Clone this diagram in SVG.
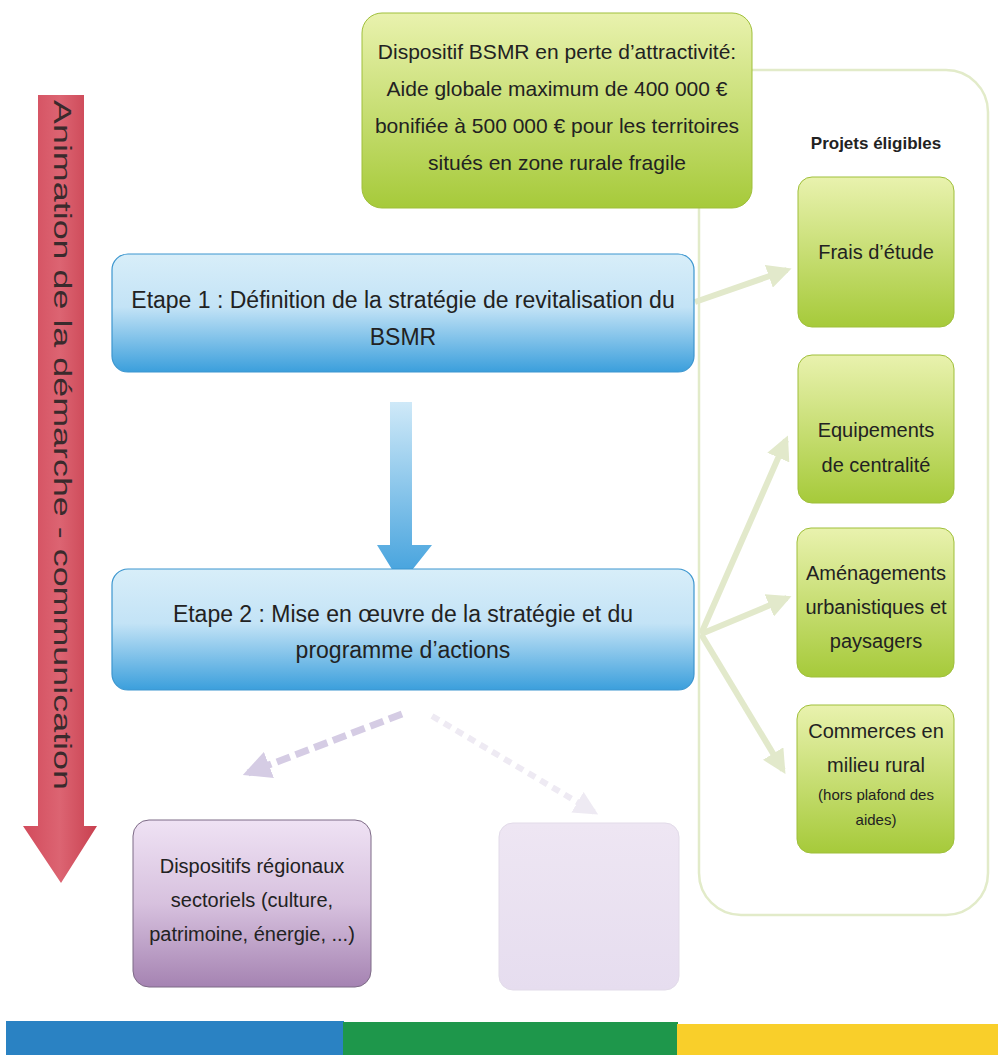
<svg xmlns="http://www.w3.org/2000/svg" width="998" height="1055" viewBox="0 0 998 1055">
<style>
.t{font-family:"Liberation Sans",Arial,sans-serif;fill:#222;text-anchor:middle}
.big{font-size:21px}
.mid{font-size:20px}
.sm{font-size:15px}
.conn{stroke:#e2e9cb;stroke-width:6;fill:none}
</style>
<defs>
<linearGradient id="gGreen" x1="0" y1="0" x2="0" y2="1">
<stop offset="0" stop-color="#e9f2ae"/><stop offset="1" stop-color="#a6ca3a"/>
</linearGradient>
<linearGradient id="gBlue" x1="0" y1="0" x2="0" y2="1">
<stop offset="0" stop-color="#d8eef9"/><stop offset="0.45" stop-color="#c3e3f6"/><stop offset="1" stop-color="#3b9fdc"/>
</linearGradient>
<linearGradient id="gBlueArrow" x1="0" y1="0" x2="0" y2="1">
<stop offset="0" stop-color="#cfe9f8"/><stop offset="1" stop-color="#3e9fdc"/>
</linearGradient>
<linearGradient id="gPurple" x1="0" y1="0" x2="0" y2="1">
<stop offset="0" stop-color="#efe2f4"/><stop offset="0.5" stop-color="#d7c1de"/><stop offset="1" stop-color="#a583b2"/>
</linearGradient>
<linearGradient id="gPale" x1="0" y1="0" x2="0" y2="1">
<stop offset="0" stop-color="#eee6f3"/><stop offset="1" stop-color="#e6ddef"/>
</linearGradient>
<linearGradient id="gRed" x1="0" y1="0" x2="1" y2="0">
<stop offset="0" stop-color="#d24b5c"/><stop offset="0.5" stop-color="#dc6472"/><stop offset="1" stop-color="#c8404f"/>
</linearGradient>
<marker id="ahG" viewBox="0 0 10 10" refX="8" refY="5" markerWidth="4" markerHeight="4" orient="auto" markerUnits="strokeWidth">
<path d="M0,0 L10,5 L0,10 z" fill="#e2e9cb"/>
</marker>
<marker id="ahP" viewBox="0 0 10 10" refX="8" refY="5" markerWidth="4" markerHeight="4" orient="auto" markerUnits="strokeWidth">
<path d="M0,0 L10,5 L0,10 z" fill="#d5cce4"/>
</marker>
<marker id="ahP2" viewBox="0 0 10 10" refX="8" refY="5" markerWidth="4" markerHeight="4" orient="auto" markerUnits="strokeWidth">
<path d="M0,0 L10,5 L0,10 z" fill="#eeeaf3"/>
</marker>
</defs>
<rect width="998" height="1055" fill="#ffffff"/>

<!-- bottom bar -->
<g id="bar">
<rect x="6" y="1021" width="338" height="34" fill="#2a82c3"/>
<rect x="343" y="1022" width="335" height="33" fill="#1e974b"/>
<rect x="677" y="1024" width="321" height="31" fill="#f9cf2a"/>
</g>

<!-- container -->
<g id="container">
<rect x="699" y="70" width="289" height="845" rx="42" fill="none" stroke="#e2ebc9" stroke-width="2.5"/>
<text class="t" x="876" y="149" style="font-size:17px;font-weight:bold">Projets éligibles</text>
</g>

<!-- red arrow -->
<g id="animation">
<path d="M38,95 L84,95 L84,826 L97,826 L61,883 L23,826 L38,826 Z" fill="url(#gRed)"/>
<text class="t" transform="translate(54,445) rotate(90)" style="font-size:23px;fill:#3a2a2c" textLength="690" lengthAdjust="spacingAndGlyphs">Animation de la démarche - communication</text>
</g>

<!-- connectors -->
<g id="connectors">
<line class="conn" x1="695" y1="302" x2="787" y2="270" marker-end="url(#ahG)"/>
<line class="conn" x1="701" y1="634" x2="786" y2="440" marker-end="url(#ahG)"/>
<line class="conn" x1="701" y1="634" x2="787" y2="598" marker-end="url(#ahG)"/>
<line class="conn" x1="701" y1="634" x2="783" y2="770" marker-end="url(#ahG)"/>
<line x1="402" y1="714" x2="248" y2="773" stroke="#d5cce4" stroke-width="7" stroke-dasharray="14,6" marker-end="url(#ahP)"/>
<line x1="432" y1="716" x2="594" y2="812" stroke="#eeeaf3" stroke-width="6" stroke-dasharray="8,6" marker-end="url(#ahP2)"/>
<path d="M390,402 L412,402 L412,545 L432,545 L401,584 L377,545 L390,545 Z" fill="url(#gBlueArrow)"/>
</g>

<!-- top box -->
<g id="bsmr">
<rect x="362" y="13" width="390" height="195" rx="20" fill="url(#gGreen)" stroke="#9fbf3a" stroke-width="1"/>
<text class="t big" x="557" y="59">Dispositif BSMR en perte d’attractivité:</text>
<text class="t big" x="557" y="96">Aide globale maximum de 400 000 €</text>
<text class="t big" x="557" y="133">bonifiée à 500 000 € pour les territoires</text>
<text class="t big" x="557" y="170">situés en zone rurale fragile</text>
</g>

<!-- etape 1 -->
<g id="etape1">
<rect x="112" y="254" width="582" height="118" rx="16" fill="url(#gBlue)" stroke="#3c96cf" stroke-width="1.2"/>
<text class="t" x="403" y="308" style="font-size:23px">Etape 1 : Définition de la stratégie de revitalisation du</text>
<text class="t" x="403" y="345" style="font-size:23px">BSMR</text>
</g>

<!-- etape 2 -->
<g id="etape2">
<rect x="112" y="569" width="582" height="121" rx="16" fill="url(#gBlue)" stroke="#3c96cf" stroke-width="1.2"/>
<text class="t" x="403" y="622" style="font-size:23px">Etape 2 : Mise en œuvre de la stratégie et du</text>
<text class="t" x="403" y="658" style="font-size:23px">programme d’actions</text>
</g>

<!-- green project boxes -->
<g id="frais">
<rect x="798" y="177" width="156" height="150" rx="14" fill="url(#gGreen)" stroke="#9fbf3a" stroke-width="1"/>
<text class="t mid" x="876" y="259">Frais d’étude</text>
</g>
<g id="equipements">
<rect x="798" y="355" width="156" height="148" rx="14" fill="url(#gGreen)" stroke="#9fbf3a" stroke-width="1"/>
<text class="t mid" x="876" y="437">Equipements</text>
<text class="t mid" x="876" y="472">de centralité</text>
</g>
<g id="amenagements">
<rect x="797" y="528" width="157" height="149" rx="14" fill="url(#gGreen)" stroke="#9fbf3a" stroke-width="1"/>
<text class="t mid" x="876" y="580">Aménagements</text>
<text class="t mid" x="876" y="614">urbanistiques et</text>
<text class="t mid" x="876" y="648">paysagers</text>
</g>
<g id="commerces">
<rect x="797" y="705" width="157" height="148" rx="14" fill="url(#gGreen)" stroke="#9fbf3a" stroke-width="1"/>
<text class="t mid" x="876" y="738">Commerces en</text>
<text class="t mid" x="876" y="772">milieu rural</text>
<text class="t sm" x="876" y="800">(hors plafond des</text>
<text class="t sm" x="876" y="825">aides)</text>
</g>

<!-- purple boxes -->
<g id="sectoriels">
<rect x="133" y="820" width="238" height="167" rx="16" fill="url(#gPurple)" stroke="#7d6a86" stroke-width="1"/>
<text class="t mid" x="252" y="873">Dispositifs régionaux</text>
<text class="t mid" x="252" y="907">sectoriels (culture,</text>
<text class="t mid" x="252" y="941">patrimoine, énergie, ...)</text>
</g>
<g id="pale">
<rect x="499" y="823" width="180" height="167" rx="14" fill="url(#gPale)" stroke="#e2dbe9" stroke-width="1"/>
</g>
</svg>
